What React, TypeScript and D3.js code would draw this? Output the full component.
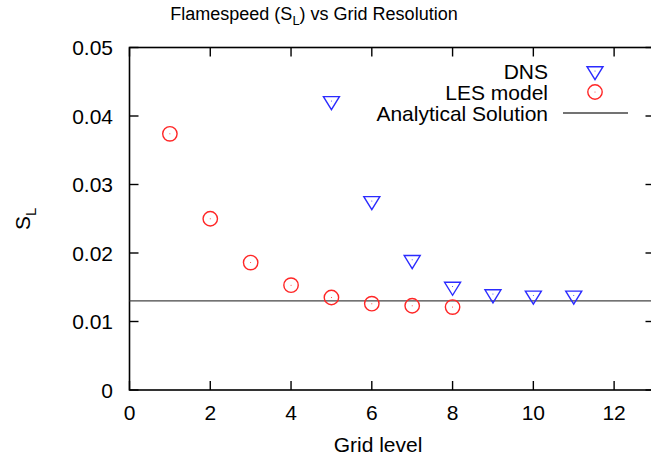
import React from 'react';
import * as d3 from 'd3';

const lesLevels = [1, 2, 3, 4, 5, 6, 7, 8];
const lesValues = [0.0374, 0.0250, 0.0186, 0.0153, 0.0135, 0.0126, 0.0123, 0.0121];
const dnsLevels = [5, 6, 7, 8, 9, 10, 11];
const dnsValues = [0.0422, 0.0276, 0.0190, 0.0151, 0.0140, 0.0138, 0.0138];
const analytical = 0.0130;
const xTicks = [0, 2, 4, 6, 8, 10, 12];
const yTicks = [0, 0.01, 0.02, 0.03, 0.04, 0.05];
const legendLabels = ['DNS', 'LES model', 'Analytical Solution'];

const W = 651;
const H = 461;
const font = '"Liberation Sans", Arial, sans-serif';

export default function App() {
  const left = 129.5;
  const right = 654.5;
  const top = 47.5;
  const bottom = 390;
  const tick = 9;

  const x = d3.scaleLinear().domain([0, 13]).range([left, right]);
  const y = d3.scaleLinear().domain([0, 0.05]).range([bottom, top]);

  const blue = '#2b2bff';
  const red = '#ff2626';

  // gnuplot-like down triangle, point sits near the top edge
  const tri = (px: number, py: number) =>
    `M${px - 8},${py - 4.3}L${px + 8},${py - 4.3}L${px},${py + 8.7}Z`;

  const legX = 595;
  const legTextX = 548;
  const legY = [71, 92, 113];

  return (
    <svg width={W} height={H} style={{ position: 'absolute', left: 0, top: 0, background: '#fff' }}
      fontFamily={font}>
      {/* title */}
      <text x={314} y={20} fontSize={18} textAnchor='middle' fill='#000'>
        Flamespeed (S<tspan fontSize={13} dy={5}>L</tspan><tspan dy={-5}>) vs Grid Resolution</tspan>
      </text>

      {/* frame */}
      <rect x={left} y={top} width={right - left} height={bottom - top} fill='none' stroke='#000' strokeWidth={1.6} />

      {/* x ticks */}
      {xTicks.map(t => (
        <g key={'x' + t}>
          <line x1={x(t)} x2={x(t)} y1={bottom} y2={bottom - tick} stroke='#000' strokeWidth={1.4} />
          <line x1={x(t)} x2={x(t)} y1={top} y2={top + tick} stroke='#000' strokeWidth={1.4} />
          <text x={x(t)} y={420} fontSize={21} textAnchor='middle'>{t}</text>
        </g>
      ))}

      {/* y ticks */}
      {yTicks.map(t => (
        <g key={'y' + t}>
          <line x1={left} x2={left + tick} y1={y(t)} y2={y(t)} stroke='#000' strokeWidth={1.4} />
          <line x1={right} x2={right - tick} y1={y(t)} y2={y(t)} stroke='#000' strokeWidth={1.4} />
          <text x={113} y={y(t) + 7.5} fontSize={21} textAnchor='end'>{t === 0 ? '0' : d3.format('.2f')(t)}</text>
        </g>
      ))}

      {/* axis labels */}
      <text x={378} y={452} fontSize={21} textAnchor='middle'>Grid level</text>
      <text transform={`translate(30,${(top + bottom) / 2}) rotate(-90)`} fontSize={21} textAnchor='middle'>
        S<tspan fontSize={15} dy={6}>L</tspan>
      </text>

      {/* analytical solution */}
      <line x1={left} x2={right} y1={y(analytical)} y2={y(analytical)} stroke='#444' strokeWidth={1.3} />

      {/* LES model */}
      {lesLevels.map((lv, i) => (
        <g key={'les' + lv}>
          <circle cx={x(lv)} cy={y(lesValues[i])} r={7.2} fill='none' stroke={red} strokeWidth={1.4} />
          <circle cx={x(lv)} cy={y(lesValues[i])} r={0.5} fill={red} />
        </g>
      ))}

      {/* DNS */}
      {dnsLevels.map((lv, i) => (
        <g key={'dns' + lv}>
          <path d={tri(x(lv), y(dnsValues[i]))} fill='none' stroke={blue} strokeWidth={1.4} strokeLinejoin='miter' />
          <circle cx={x(lv)} cy={y(dnsValues[i])} r={0.5} fill={blue} />
        </g>
      ))}

      {/* legend */}
      {legendLabels.map((l, i) => (
        <text key={l} x={legTextX} y={legY[i] + 7.5} fontSize={21} textAnchor='end'>{l}</text>
      ))}
      <path d={tri(legX, legY[0])} fill='none' stroke={blue} strokeWidth={1.4} />
      <circle cx={legX} cy={legY[0]} r={0.5} fill={blue} />
      <circle cx={legX} cy={legY[1]} r={7.2} fill='none' stroke={red} strokeWidth={1.4} />
      <circle cx={legX} cy={legY[1]} r={0.5} fill={red} />
      <line x1={563} x2={628} y1={legY[2]} y2={legY[2]} stroke='#444' strokeWidth={1.3} />
    </svg>
  );
}
